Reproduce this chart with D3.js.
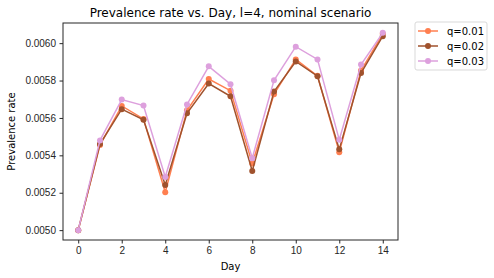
<!DOCTYPE html>
<html>
<head>
<meta charset="utf-8">
<title>Prevalence rate vs. Day</title>
<style>
  body { margin: 0; background: #fff; }
  svg { font-family: "DejaVu Sans", sans-serif; }
  .axis text { font-size: 10px; fill: #262626; }
  .axis path, .axis line { stroke: #262626; }
</style>
<script src="https://d3js.org/d3.v7.min.js"></script>
</head>
<body>
<div id="chart"></div>
<script>
// data
var days = [0, 1, 2, 3, 4, 5, 6, 7, 8, 9, 10, 11, 12, 13, 14];
var q001 = [0.00500, 0.005455, 0.005664, 0.005595, 0.005203, 0.005641, 0.005808, 0.005746, 0.005357, 0.005727, 0.005913, 0.005825, 0.005417, 0.005854, 0.006050];
var q002 = [0.00500, 0.005460, 0.005647, 0.005590, 0.005241, 0.005625, 0.005784, 0.005716, 0.005316, 0.005741, 0.005902, 0.005823, 0.005432, 0.005840, 0.006037];
var q003 = [0.00500, 0.005480, 0.005698, 0.005666, 0.005284, 0.005672, 0.005876, 0.005780, 0.005385, 0.005801, 0.005981, 0.005913, 0.005483, 0.005886, 0.006055];
var seriesNames = ["q=0.01", "q=0.02", "q=0.03"];
var colors = ["#FF7F50", "#A0522D", "#DDA0DD"];
var xTicks = [0, 2, 4, 6, 8, 10, 12, 14];
var yTicks = [0.0050, 0.0052, 0.0054, 0.0056, 0.0058, 0.0060];

var series = [q001, q002, q003].map(function(vals, i) {
  return { name: seriesNames[i], color: colors[i],
    points: vals.map(function(v, j) { return { day: days[j], value: v }; }) };
});

var W = 494, H = 278;
var margin = { left: 63, right: 96, top: 23, bottom: 38 };
var width = W - margin.left - margin.right,
    height = H - margin.top - margin.bottom;

var svg = d3.select("#chart").append("svg")
  .attr("width", W).attr("height", H);

var g = svg.append("g")
  .attr("transform", "translate(" + margin.left + "," + margin.top + ")");

// matplotlib style 5% margins
var xSpan = d3.max(days) - d3.min(days);
var x = d3.scaleLinear()
  .domain([d3.min(days) - 0.05 * xSpan, d3.max(days) + 0.05 * xSpan])
  .range([0, width]);

var allVals = q001.concat(q002, q003);
var yMin = d3.min(allVals), yMax = d3.max(allVals), ySpan = yMax - yMin;
var y = d3.scaleLinear()
  .domain([yMin - 0.05 * ySpan, yMax + 0.05 * ySpan])
  .range([height, 0]);

// axes
g.append("g").attr("class", "axis")
  .attr("transform", "translate(0," + height + ")")
  .call(d3.axisBottom(x).tickValues(xTicks).tickSize(3.5).tickPadding(3.5).tickFormat(d3.format("d")))
  .call(function(s) { s.select(".domain").remove(); });

g.append("g").attr("class", "axis")
  .call(d3.axisLeft(y).tickValues(yTicks).tickSize(3.5).tickPadding(3.5).tickFormat(d3.format(".4f")))
  .call(function(s) { s.select(".domain").remove(); });

// frame
g.append("rect")
  .attr("width", width).attr("height", height)
  .attr("fill", "none").attr("stroke", "#262626").attr("stroke-width", 1);

var line = d3.line()
  .x(function(d) { return x(d.day); })
  .y(function(d) { return y(d.value); });

var sg = g.selectAll(".series").data(series).enter().append("g").attr("class", "series");

sg.append("path")
  .attr("d", function(d) { return line(d.points); })
  .attr("fill", "none")
  .attr("stroke", function(d) { return d.color; })
  .attr("stroke-width", 1.5);

sg.selectAll("circle")
  .data(function(d) { return d.points.map(function(p) { return { p: p, c: d.color }; }); })
  .enter().append("circle")
  .attr("cx", function(d) { return x(d.p.day); })
  .attr("cy", function(d) { return y(d.p.value); })
  .attr("r", 3)
  .attr("fill", function(d) { return d.c; });

// labels
svg.append("text")
  .attr("x", margin.left + width / 2).attr("y", 17)
  .attr("text-anchor", "middle").attr("font-size", 12).attr("fill", "#000")
  .text("Prevalence rate vs. Day, l=4, nominal scenario");

svg.append("text")
  .attr("x", margin.left + width / 2).attr("y", 270)
  .attr("text-anchor", "middle").attr("font-size", 10).attr("fill", "#000")
  .text("Day");

svg.append("text")
  .attr("transform", "translate(15," + (margin.top + height / 2) + ") rotate(-90)")
  .attr("text-anchor", "middle").attr("font-size", 10).attr("fill", "#000")
  .text("Prevalence rate");

// legend
var legend = svg.append("g").attr("transform", "translate(415,22)");
legend.append("rect")
  .attr("width", 72).attr("height", 48).attr("rx", 2)
  .attr("fill", "#fff").attr("stroke", "#d9d9d9");

var items = legend.selectAll(".item").data(series).enter().append("g")
  .attr("transform", function(d, i) { return "translate(0," + (9 + i * 15) + ")"; });
items.append("line")
  .attr("x1", 3).attr("x2", 23)
  .attr("stroke", function(d) { return d.color; }).attr("stroke-width", 1.5);
items.append("circle")
  .attr("cx", 13).attr("r", 3)
  .attr("fill", function(d) { return d.color; });
items.append("text")
  .attr("x", 32).attr("y", 3.5)
  .attr("font-size", 10).attr("fill", "#000")
  .text(function(d) { return d.name; });
</script>
</body>
</html>
